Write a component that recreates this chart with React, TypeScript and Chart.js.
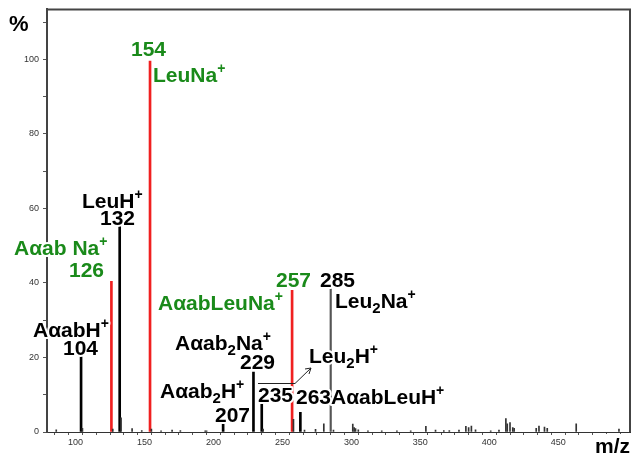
import React, { useEffect, useRef } from 'react';
import { Chart, registerables } from 'chart.js';

Chart.register(...registerables);

// ---- data ----
const blackMz = [104, 132, 207, 229, 235, 263];
const blackInt = [21, 56, 2.2, 16.1, 7.6, 5.3];
const grayMz = [285];
const grayInt = [39];
const redMz = [126, 154, 257];
const redInt = [40.4, 99.5, 38];
const minorMz = [86, 105, 127, 133, 141, 148, 155, 162, 170, 176, 194, 195, 236, 258, 266, 274, 280, 287, 301, 302, 303, 305, 312, 322, 333, 343, 354, 361, 367, 371, 378, 383, 385, 387, 390, 401, 407, 412, 413, 415, 417, 418, 434, 436, 440, 442, 463, 494];
const minorInt = [0.6, 1.0, 0.8, 3.8, 0.9, 0.4, 0.8, 0.3, 0.5, 0.4, 0.3, 0.3, 0.8, 3.4, 0.5, 0.7, 2.2, 0.5, 2.1, 1.2, 0.9, 0.6, 0.3, 0.3, 0.3, 0.3, 1.5, 0.5, 0.4, 0.4, 0.5, 1.5, 1.2, 1.6, 0.6, 0.3, 0.5, 3.6, 2.2, 2.5, 1.2, 1.0, 1.0, 1.6, 1.3, 1.0, 2.2, 0.8];
const xTickValues = [80, 90, 100, 110, 120, 130, 140, 150, 160, 170, 180, 190, 200, 210, 220, 230, 240, 250, 260, 270, 280, 290, 300, 310, 320, 330, 340, 350, 360, 370, 380, 390, 400, 410, 420, 430, 440, 450, 460, 470, 480, 490, 500];
const xTickLabels = ['100', '150', '200', '250', '300', '350', '400', '450'];
const yTickValues = [0, 10, 20, 30, 40, 50, 60, 70, 80, 90, 100, 110];
const yTickLabels = ['0', '20', '40', '60', '80', '100'];

const FAM = "Arial, 'Liberation Sans', sans-serif";
const GREEN = '#1a8a1a';
const BLACK = '#000000';

type Seg = [string, ('sup' | 'sub')?];
interface Lbl { segs: Seg[]; x: number; y: number; c: string }

const labels: Lbl[] = [
  { segs: [['154']], x: 131, y: 56, c: GREEN },
  { segs: [['LeuNa'], ['+', 'sup']], x: 153, y: 82, c: GREEN },
  { segs: [['LeuH'], ['+', 'sup']], x: 82, y: 208, c: BLACK },
  { segs: [['132']], x: 100, y: 225, c: BLACK },
  { segs: [['Aαab Na'], ['+', 'sup']], x: 14, y: 255, c: GREEN },
  { segs: [['126']], x: 69, y: 277, c: GREEN },
  { segs: [['AαabH'], ['+', 'sup']], x: 33, y: 337, c: BLACK },
  { segs: [['104']], x: 63, y: 355, c: BLACK },
  { segs: [['257']], x: 276, y: 287, c: GREEN },
  { segs: [['285']], x: 320, y: 287, c: BLACK },
  { segs: [['AαabLeuNa'], ['+', 'sup']], x: 158, y: 310, c: GREEN },
  { segs: [['Leu'], ['2', 'sub'], ['Na'], ['+', 'sup']], x: 335, y: 308, c: BLACK },
  { segs: [['Aαab'], ['2', 'sub'], ['Na'], ['+', 'sup']], x: 175, y: 350, c: BLACK },
  { segs: [['229']], x: 240, y: 369, c: BLACK },
  { segs: [['Leu'], ['2', 'sub'], ['H'], ['+', 'sup']], x: 309, y: 363, c: BLACK },
  { segs: [['Aαab'], ['2', 'sub'], ['H'], ['+', 'sup']], x: 160, y: 398, c: BLACK },
  { segs: [['207']], x: 215, y: 422, c: BLACK },
  { segs: [['235']], x: 258, y: 402, c: BLACK },
  { segs: [['263AαabLeuH'], ['+', 'sup']], x: 296, y: 404, c: BLACK },
];

function segFont(k?: string) {
  const size = k === 'sup' ? 14 : k === 'sub' ? 15 : 21;
  return `bold ${size}px ${FAM}`;
}
function segDy(k?: string) {
  return k === 'sup' ? -9 : k === 'sub' ? 5 : 0;
}

function drawRich(ctx: CanvasRenderingContext2D, l: Lbl, pass: 'halo' | 'fill') {
  let cx = l.x;
  for (const [t, k] of l.segs) {
    ctx.font = segFont(k);
    if (pass === 'halo') {
      ctx.strokeText(t, cx, l.y + segDy(k));
    } else {
      ctx.fillText(t, cx, l.y + segDy(k));
    }
    cx += ctx.measureText(t).width;
  }
}

const annotPlugin = {
  id: 'annot',
  afterDatasetsDraw(chart: any) {
    const ctx: CanvasRenderingContext2D = chart.ctx;
    const a = chart.chartArea;
    ctx.save();
    // frame top + right
    ctx.strokeStyle = '#444';
    ctx.lineWidth = 2;
    ctx.beginPath();
    ctx.moveTo(a.left, a.top);
    ctx.lineTo(a.right, a.top);
    ctx.lineTo(a.right, a.bottom);
    ctx.stroke();

    // arrow from 235 to Leu2H+
    ctx.strokeStyle = '#222';
    ctx.lineWidth = 1;
    ctx.beginPath();
    ctx.moveTo(258, 383.5);
    ctx.lineTo(295, 383.5);
    ctx.lineTo(311, 368);
    ctx.stroke();
    ctx.beginPath();
    ctx.moveTo(305, 369);
    ctx.lineTo(311, 368);
    ctx.lineTo(309, 374);
    ctx.stroke();

    // labels
    ctx.textBaseline = 'alphabetic';
    ctx.textAlign = 'left';
    ctx.lineJoin = 'round';
    ctx.strokeStyle = '#fff';
    ctx.lineWidth = 4;
    for (const l of labels) drawRich(ctx, l, 'halo');
    for (const l of labels) { ctx.fillStyle = l.c; drawRich(ctx, l, 'fill'); }

    // axis titles
    ctx.fillStyle = '#000';
    ctx.font = `bold 22px ${FAM}`;
    ctx.fillText('%', 9, 31);
    ctx.fillStyle = '#fff';
    ctx.fillRect(594, 434, 39, 23);
    ctx.fillStyle = '#000';
    ctx.font = `bold 21px ${FAM}`;
    ctx.fillText('m/z', 595, 453);
    ctx.restore();
  },
};

export default function App() {
  const ref = useRef<HTMLCanvasElement>(null);
  useEffect(() => {
    if (!ref.current) return;
    const pts = (xs: number[], ys: number[]) => xs.map((x, i) => ({ x, y: ys[i] }));
    const chart = new Chart(ref.current, {
      type: 'bar',
      data: {
        datasets: [
          { data: pts(minorMz, minorInt), backgroundColor: '#333', barThickness: 1, grouped: false } as any,
          { data: pts(grayMz, grayInt), backgroundColor: '#555', barThickness: 1.5, grouped: false } as any,
          { data: pts(blackMz, blackInt), backgroundColor: '#000', barThickness: 2, grouped: false } as any,
          { data: pts(redMz, redInt), backgroundColor: '#f02020', barThickness: 2, grouped: false } as any,
        ],
      },
      options: {
        animation: false,
        responsive: false,
        events: [],
        layout: { padding: { top: 8, right: 3, left: 0, bottom: 0 } },
        plugins: { legend: { display: false }, tooltip: { enabled: false } },
        scales: {
          x: {
            type: 'linear',
            min: 79.3,
            max: 502,
            offset: false,
            afterBuildTicks: (s: any) => { s.ticks = xTickValues.map((v) => ({ value: v })); },
            afterFit: (s: any) => { s.height = 25; },
            grid: { drawOnChartArea: false, drawTicks: true, tickLength: 3, color: '#555' },
            border: { color: '#333', width: 1 },
            ticks: {
              autoSkip: false,
              maxRotation: 0,
              padding: 2,
              color: '#333',
              font: { size: 9, family: FAM },
              callback: (v: any) => (xTickLabels.includes(String(v)) ? String(v) : ''),
            },
          },
          y: {
            type: 'linear',
            min: 0,
            max: 113.4,
            afterBuildTicks: (s: any) => { s.ticks = yTickValues.map((v) => ({ value: v })); },
            afterFit: (s: any) => { s.width = 47; },
            grid: { drawOnChartArea: false, drawTicks: true, tickLength: 4, color: '#555' },
            border: { color: '#444', width: 2 },
            ticks: {
              autoSkip: false,
              padding: 4,
              color: '#333',
              font: { size: 9, family: FAM },
              callback: (v: any) => (yTickLabels.includes(String(v)) ? String(v) : ''),
            },
          },
        },
      } as any,
      plugins: [annotPlugin],
    });
    return () => chart.destroy();
  }, []);
  return (
    <div style={{ position: 'fixed', left: 0, top: 0, width: 633, height: 457, background: '#fff' }}>
      <canvas ref={ref} width={633} height={457} style={{ display: 'block' }} />
    </div>
  );
}
